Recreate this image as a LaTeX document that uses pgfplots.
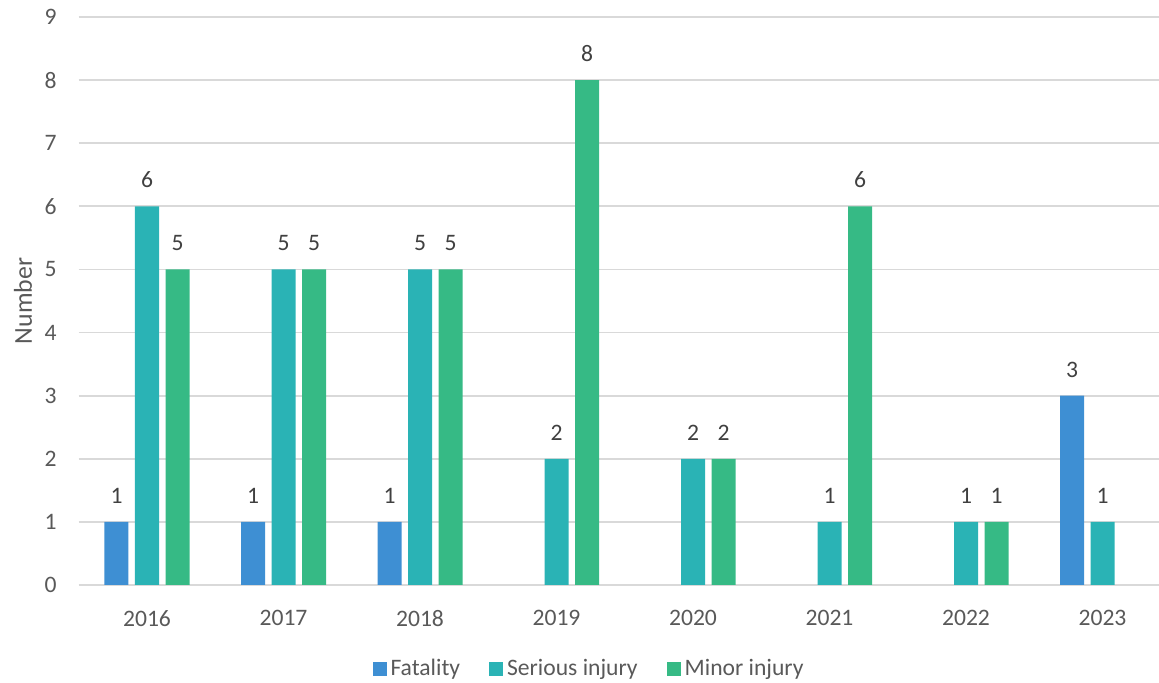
\documentclass[border=0pt]{standalone}
\usepackage{fontspec}
\setmainfont{Carlito}
\usepackage{pgfplots}
\pgfplotsset{compat=1.18}
\definecolor{cF}{HTML}{3E8FD3}
\definecolor{cS}{HTML}{2AB3B5}
\definecolor{cM}{HTML}{36BA85}
\definecolor{txt}{HTML}{595959}
\definecolor{lbl}{HTML}{404040}
\definecolor{grd}{HTML}{D9D9D9}
\begin{document}
\begin{tikzpicture}[x=0.5pt,y=0.5pt]
\path[use as bounding box] (-78.75,-98) rectangle (1080.25,585);
\begin{axis}[
  /pgf/number format/assume math mode=true,
  at={(0,0)}, anchor=south west,
  scale only axis, width=540.125pt, height=284pt,
  xmin=-0.5, xmax=7.414, ymin=0, ymax=9,
  ybar=3.25pt, bar width=12pt,
  xtick={0,...,7}, xticklabels={2016,2017,2018,2019,2020,2021,2022,2023},
  ytick={0,...,9},
  axis x line*=bottom, axis y line*=left,
  axis line style={draw=none},
  major tick length=0pt,
  ymajorgrids, grid style={grd, line width=0.9pt},
  tick label style={font=\fontsize{11.8}{14}\selectfont, text=txt, inner sep=0pt},
  yticklabel style={xshift=-10.9pt},
  xticklabel style={yshift=-12.5pt},
  ylabel={Number},
  ylabel style={at={(axis description cs:-0.0516,0.5)}, anchor=center, font=\fontsize{12.9}{15}\selectfont, text=txt},
  nodes near coords,
  every node near coord/.append style={anchor=south, inner sep=0pt, yshift=9pt, font=\fontsize{11.8}{14}\selectfont, text=lbl},
  legend style={at={(axis description cs:0.4733,-0.1479)}, anchor=center, draw=none, fill=none,
    legend columns=3, font=\fontsize{11.8}{14}\selectfont, text=txt,
    /tikz/every even column/.append style={column sep=12.5pt}},
  legend image code/.code={\fill[#1] (0pt,-3.5pt) rectangle (7pt,3.5pt);},
]
\addplot[fill=cF, draw=none] coordinates {(0,1) (1,1) (2,1) (7,3)};
\addplot[fill=cS, draw=none] coordinates {(0,6) (1,5) (2,5) (3,2) (4,2) (5,1) (6,1) (7,1)};
\addplot[fill=cM, draw=none] coordinates {(0,5) (1,5) (2,5) (3,8) (4,2) (5,6) (6,1)};
\legend{Fatality, Serious injury, Minor injury}
\end{axis}
\end{tikzpicture}
\end{document}
